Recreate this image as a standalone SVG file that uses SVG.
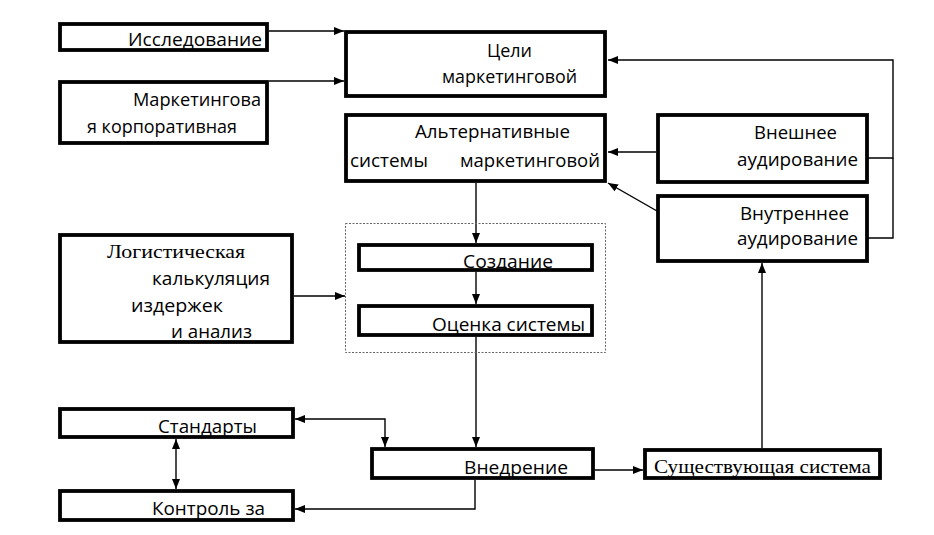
<svg xmlns="http://www.w3.org/2000/svg" width="934" height="535" viewBox="0 0 934 535">
<style>
.box{fill:#fff;stroke:#000;stroke-width:3.8}
.dash{fill:none;stroke:#666;stroke-width:1;stroke-dasharray:2 1.5}
.ln{fill:none;stroke:#000;stroke-width:1.4}
.t{font-family:"Open Sans","Liberation Sans",sans-serif;font-size:18px;fill:#000}
.s{font-family:"Liberation Serif","Times New Roman",serif;font-size:19px;fill:#000}
</style>
<defs>
<marker id="ah" markerUnits="userSpaceOnUse" markerWidth="11" markerHeight="9" refX="10" refY="4" orient="auto-start-reverse">
<path d="M0,0 L10,4 L0,8 z" fill="#000"/>
</marker>
</defs>
<rect width="934" height="535" fill="#fff"/>
<g id="connectors">
<path class="ln" d="M269,31 H344" marker-end="url(#ah)"/>
<path class="ln" d="M269,81 H344" marker-end="url(#ah)"/>
<path class="ln" d="M868,158 H893 V60 H608" marker-end="url(#ah)"/>
<path class="ln" d="M868,238 H893 V158"/>
<path class="ln" d="M656,152 H608" marker-end="url(#ah)"/>
<path class="ln" d="M657,211 L608,183" marker-end="url(#ah)"/>
<path class="ln" d="M476,183 V243" marker-end="url(#ah)"/>
<path class="ln" d="M476,272 V304" marker-end="url(#ah)"/>
<path class="ln" d="M476,337 V447" marker-end="url(#ah)"/>
<path class="ln" d="M294,296 H345" marker-end="url(#ah)"/>
<path class="ln" d="M385,447 V419 H295" marker-start="url(#ah)" marker-end="url(#ah)"/>
<path class="ln" d="M475,480 V509 H295" marker-end="url(#ah)"/>
<path class="ln" d="M176,439 V489" marker-start="url(#ah)" marker-end="url(#ah)"/>
<path class="ln" d="M595,470 H643" marker-end="url(#ah)"/>
<path class="ln" d="M762,448 V263" marker-end="url(#ah)"/>
</g>
<g id="research">
<rect class="box" x="60" y="24" width="207" height="26"/>
<text class="t" x="128" y="46" textLength="134" lengthAdjust="spacingAndGlyphs">Исследование</text>
</g>
<g id="corporate">
<rect class="box" x="60" y="82" width="207" height="61"/>
<text class="t" x="133" y="106" textLength="128" lengthAdjust="spacingAndGlyphs">Маркетингова</text>
<text class="t" x="87" y="133" textLength="150" lengthAdjust="spacingAndGlyphs">я корпоративная</text>
</g>
<g id="goals">
<rect class="box" x="346" y="32" width="259" height="64"/>
<text class="t" x="487" y="57" textLength="45" lengthAdjust="spacingAndGlyphs">Цели</text>
<text class="t" x="442" y="83" textLength="135" lengthAdjust="spacingAndGlyphs">маркетинговой</text>
</g>
<g id="alternatives">
<rect class="box" x="346" y="115" width="259" height="66"/>
<text class="t" x="415" y="138" textLength="155" lengthAdjust="spacingAndGlyphs">Альтернативные</text>
<text class="t" x="350" y="167" textLength="78" lengthAdjust="spacingAndGlyphs">системы</text>
<text class="t" x="460" y="167" textLength="140" lengthAdjust="spacingAndGlyphs">маркетинговой</text>
</g>
<g id="external-audit">
<rect class="box" x="658" y="115" width="209" height="67"/>
<text class="t" x="754" y="139" textLength="83" lengthAdjust="spacingAndGlyphs">Внешнее</text>
<text class="t" x="737" y="166" textLength="121" lengthAdjust="spacingAndGlyphs">аудирование</text>
</g>
<g id="internal-audit">
<rect class="box" x="658" y="196" width="209" height="65"/>
<text class="t" x="740" y="220" textLength="109" lengthAdjust="spacingAndGlyphs">Внутреннее</text>
<text class="t" x="737" y="245" textLength="121" lengthAdjust="spacingAndGlyphs">аудирование</text>
</g>
<g id="logistics">
<rect class="box" x="60" y="235" width="232" height="107"/>
<text class="s" x="107" y="258" textLength="138" lengthAdjust="spacingAndGlyphs">Логистическая</text>
<text class="t" x="152" y="285" textLength="118" lengthAdjust="spacingAndGlyphs">калькуляция</text>
<text class="t" x="131" y="312" textLength="92" lengthAdjust="spacingAndGlyphs">издержек</text>
<text class="t" x="171" y="338" textLength="81" lengthAdjust="spacingAndGlyphs">и анализ</text>
</g>
<g id="design-group">
<rect class="dash" x="345.5" y="223.5" width="260" height="129"/>
</g>
<g id="creation">
<rect class="box" x="359" y="245" width="233" height="25"/>
<text class="t" x="463" y="268" textLength="90" lengthAdjust="spacingAndGlyphs">Создание</text>
</g>
<g id="evaluation">
<rect class="box" x="359" y="306" width="233" height="29"/>
<text class="t" x="432" y="331" textLength="153" lengthAdjust="spacingAndGlyphs">Оценка системы</text>
</g>
<g id="standards">
<rect class="box" x="60" y="409" width="233" height="28"/>
<text class="t" x="158" y="433" textLength="99" lengthAdjust="spacingAndGlyphs">Стандарты</text>
</g>
<g id="control">
<rect class="box" x="60" y="491" width="233" height="29"/>
<text class="t" x="152" y="515" textLength="113" lengthAdjust="spacingAndGlyphs">Контроль за</text>
</g>
<g id="implementation">
<rect class="box" x="372" y="449" width="221" height="29"/>
<text class="t" x="464" y="474" textLength="104" lengthAdjust="spacingAndGlyphs">Внедрение</text>
</g>
<g id="existing-system">
<rect class="box" x="645" y="450" width="235" height="28"/>
<text class="s" x="654" y="473" font-size="20" textLength="217" lengthAdjust="spacingAndGlyphs">Существующая система</text>
</g>
</svg>
